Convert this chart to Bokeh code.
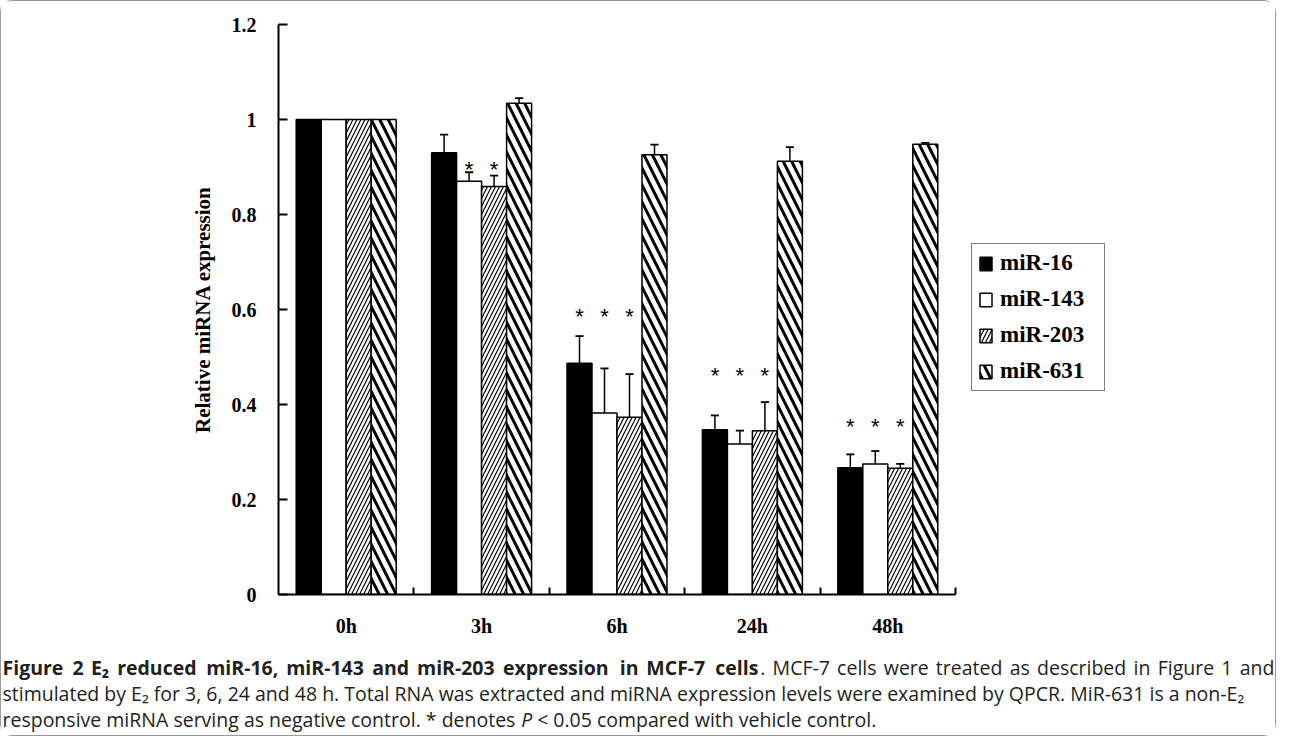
import math
from bokeh.plotting import figure
from bokeh.layouts import column
from bokeh.models import (FixedTicker, CustomJSTickFormatter, Legend, LegendItem,
                          Range1d, LinearAxis)
from bokeh.core.properties import value
from bokeh.embed import file_html
from bokeh.resources import INLINE

# ---------------- data ----------------
times = ["0h", "3h", "6h", "24h", "48h"]
series = ["miR-16", "miR-143", "miR-203", "miR-631"]
mir16 = [1.0, 0.930, 0.487, 0.347, 0.267]
mir143 = [1.0, 0.870, 0.382, 0.317, 0.275]
mir203 = [1.0, 0.859, 0.373, 0.345, 0.266]
mir631 = [1.0, 1.034, 0.926, 0.912, 0.948]
err16 = [0.0, 0.038, 0.057, 0.030, 0.028]
err143 = [0.0, 0.019, 0.094, 0.028, 0.027]
err203 = [0.0, 0.023, 0.091, 0.060, 0.009]
err631 = [0.0, 0.011, 0.021, 0.030, 0.003]
# significance stars (time point, series, height)
star_time = ["3h", "3h", "6h", "6h", "6h", "24h", "24h", "24h", "48h", "48h", "48h"]
star_series = ["miR-143", "miR-203", "miR-16", "miR-143", "miR-203",
               "miR-16", "miR-143", "miR-203", "miR-16", "miR-143", "miR-203"]
star_y = [0.910, 0.910, 0.601, 0.601, 0.601, 0.475, 0.475, 0.475, 0.368, 0.368, 0.368]
y_ticks = [0, 0.2, 0.4, 0.6, 0.8, 1.0, 1.2]
y_label = "Relative miRNA expression"

values = [mir16, mir143, mir203, mir631]
errors = [err16, err143, err203, err631]

# ---------------- layout ----------------
W = 1274
H1 = 640            # chart part
H2 = 94             # caption part
FL, FT, AXR, FB = 277, 23, 954, 593    # frame left/top, end of x axis, frame bottom
XMAX, YMAX = len(times), 1.2
XR = XMAX * (W - FL) / (AXR - FL)      # frame runs to the right edge (room for legend)
SERIF = "Liberation Serif"
SANS = "Open Sans"

p = figure(width=W, height=H1, x_range=Range1d(0, XR), y_range=Range1d(0, YMAX),
           min_border_left=FL, min_border_right=0, min_border_top=FT,
           min_border_bottom=H1 - FB, output_backend="svg", toolbar_location=None,
           x_axis_type=None, y_axis_type=None)
p.frame_align = False
p.xgrid.visible = False
p.ygrid.visible = False
p.outline_line_color = None

yaxis = LinearAxis(ticker=FixedTicker(ticks=y_ticks, minor_ticks=[]),
                   formatter=CustomJSTickFormatter(code="return String(Math.round(tick*10)/10)"),
                   major_tick_in=9, major_tick_out=0, minor_tick_line_color=None,
                   axis_line_width=2, major_tick_line_width=2,
                   major_label_text_font=SERIF, major_label_text_font_style="bold",
                   major_label_text_font_size="20px", major_label_text_color="black",
                   major_label_standoff=22,
                   axis_label=y_label, axis_label_text_font=SERIF,
                   axis_label_text_font_style="bold", axis_label_text_font_size="21px",
                   axis_label_text_color="black", axis_label_standoff=14)
p.add_layout(yaxis, "left")

xaxis = LinearAxis(ticker=FixedTicker(ticks=[i + 0.5 for i in range(len(times))],
                                      minor_ticks=[i + 1 for i in range(len(times))]),
                   formatter=CustomJSTickFormatter(args=dict(labels=times),
                                                   code="return labels[Math.floor(tick)]"),
                   bounds=(0, XMAX),
                   major_tick_in=0, major_tick_out=0, minor_tick_in=7, minor_tick_out=0,
                   minor_tick_line_width=2, axis_line_width=2,
                   major_label_text_font=SERIF, major_label_text_font_style="bold",
                   major_label_text_font_size="20px", major_label_text_color="black",
                   major_label_standoff=20)
p.add_layout(xaxis, "below")

bw = 0.1846
styles = [
    dict(fill_color="black"),
    dict(fill_color="white"),
    dict(fill_color="white", hatch_pattern="/", hatch_scale=8, hatch_weight=1.2, hatch_color="black"),
    dict(fill_color="white", hatch_pattern="\\", hatch_scale=17, hatch_weight=3, hatch_color="black"),
]
renderers = []
for i, name in enumerate(series):
    off = (i - 1.5) * bw
    xs = [t + 0.5 + off for t in range(len(times))]
    r = p.vbar(x=xs, top=values[i], bottom=0, width=bw, line_color="black",
               line_width=1.5, **styles[i])
    renderers.append(r)
    ex = [x for x, e in zip(xs, errors[i]) if e > 0]
    ey0 = [v for v, e in zip(values[i], errors[i]) if e > 0]
    ey1 = [v + e for v, e in zip(values[i], errors[i]) if e > 0]
    p.segment(x0=ex, x1=ex, y0=ey0, y1=ey1, line_color="black", line_width=1.5)
    cw = 0.03
    p.segment(x0=[x - cw for x in ex], x1=[x + cw for x in ex], y0=ey1, y1=ey1,
              line_color="black", line_width=1.8)

sx = [times.index(t) + 0.5 + (series.index(s) - 1.5) * bw for t, s in zip(star_time, star_series)]
p.text(x=sx, y=star_y, text=["*"] * len(sx), text_font=value("Liberation Sans"),
       text_font_size="22px", text_align="center", text_baseline="middle",
       y_offset=7, text_color="black")

legend = Legend(items=[LegendItem(label=n, renderers=[r]) for n, r in zip(series, renderers)],
                location=(970 - FL, FB - 390), glyph_width=15, glyph_height=17,
                label_text_font=SERIF, label_text_font_style="bold",
                label_text_font_size="23px", label_text_color="black",
                border_line_color="black", border_line_width=1.5, padding=6,
                spacing=10, label_height=24, label_width=98, label_standoff=7, margin=0)
p.add_layout(legend)

# ---------------- caption ----------------
CAP = 19.5
q = figure(width=W, height=H2, x_range=Range1d(0, W), y_range=Range1d(H2, 0),
           min_border=0, output_backend="svg", toolbar_location=None,
           x_axis_type=None, y_axis_type=None)
q.frame_align = False
q.xgrid.visible = False
q.ygrid.visible = False
q.outline_line_color = None

REG = {' ': .26, 'a': .556, 'b': .613, 'c': .476, 'd': .613, 'e': .561, 'f': .339,
       'g': .548, 'h': .614, 'i': .253, 'k': .525, 'l': .253, 'm': .93, 'n': .614,
       'o': .604, 'p': .613, 'r': .408, 's': .477, 't': .353, 'u': .614, 'v': .501,
       'w': .778, 'x': .524, 'y': .502, '.': .266, ',': .244, '-': .322, '*': .551,
       '<': .572, 'A': .633, 'C': .631, 'F': .516, 'M': .903, 'N': .754, 'R': .624,
       'P': .604, 'Q': .729, 'T': .56, 'E': .556, '\u2082': .37}
BOLD = {' ': .26, 'a': .608, 'b': .652, 'c': .523, 'd': .652, 'e': .616, 'f': .406,
        'g': .577, 'h': .669, 'i': .317, 'l': .317, 'm': 1.0, 'n': .669, 'o': .637,
        'p': .652, 'r': .468, 's': .528, 't': .436, 'u': .669, 'x': .596, 'F': .574,
        'M': 1.063, 'C': .633, 'R': .681, 'E': .575, ',': .268, '-': .322, '\u2082': .4}

def tw(s, size, table=REG):
    return sum(table.get(c, .572) for c in s) * size

cap1a = "Figure 2 E\u2082 reduced miR-16, miR-143 and miR-203 expression in MCF-7 cells"
cap1b = ". MCF-7 cells were treated as described in Figure 1 and"
cap2 = ("stimulated by E\u2082 for 3, 6, 24 and 48 h. Total RNA was extracted and miRNA "
        "expression levels were examined by QPCR. MiR-631 is a non-E\u2082")
cap3a = "responsive miRNA serving as negative control. * denotes"
cap3b = "P"
cap3c = "< 0.05 compared with vehicle control."

L1, L2, L3 = 26, 52, 78
X0, X1 = 1, 1273
INK = "#231f20"

def put(texts, xs, y, align, style):
    q.text(x=xs, y=[y] * len(xs), text=texts, text_font=value(SANS),
           text_font_size=f"{CAP}px", text_font_style=value(style),
           text_align=value(align), text_baseline=value("middle"), text_color=INK)

# line 1: justified; bold words from the left, regular words from the right
wa = cap1a.split(" ")
wb = cap1b.split(" ")
nat = sum(tw(w, CAP, BOLD) for w in wa) + sum(tw(w, CAP) for w in wb)
nsp = (len(wa) - 1) + (len(wb) - 1)
gap = (X1 - X0 - nat) / nsp
xa, x = [], X0
for w in wa:
    xa.append(x)
    x += tw(w, CAP, BOLD) + gap
put(wa, xa, L1, "left", "bold")
xb, x = [], X1
for w in reversed(wb):
    xb.append(x)
    x -= tw(w, CAP) + gap
xb.reverse()
put(wb, xb, L1, "right", "normal")

put([cap2], [X0], L2, "left", "normal")

x3 = X0 + tw(cap3a, CAP) + tw(" ", CAP)
put([cap3a], [X0], L3, "left", "normal")
put([cap3b], [x3], L3, "left", "italic")
put([cap3c], [x3 + (0.56 + 0.26) * CAP], L3, "left", "normal")

layout = column(p, q, spacing=0,
                styles={"border": "1.5px solid #9a9a9a", "border-radius": "12px"})
open("out.html", "w").write(file_html(layout, INLINE))
